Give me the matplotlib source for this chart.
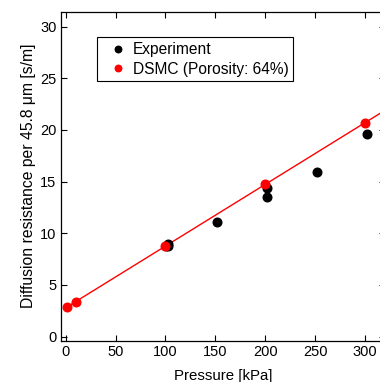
import numpy as np
import matplotlib
matplotlib.use("Agg")
import matplotlib.pyplot as plt

plt.rcParams['font.family'] = ['Liberation Sans', 'DejaVu Sans']

# Experimental data
exp_p = [101, 103, 103, 151.5, 202, 202, 252, 301.5]
exp_r = [8.8, 9.0, 8.75, 11.1, 14.4, 13.55, 15.9, 19.65]

# DSMC data
dsmc_p = [1, 10, 100, 200, 300]
dsmc_r = [2.84, 3.39, 8.75, 14.75, 20.7]

xticks = [0, 50, 100, 150, 200, 250, 300]
yticks = [0, 5, 10, 15, 20, 25, 30]

W, H = 380, 382
fig = plt.figure(figsize=(W / 100, H / 100), dpi=100)
ax = fig.add_axes([60.7 / W, (H - 340.7) / H, 324.3 / W, 329.0 / H])

coef = np.polyfit(dsmc_p, dsmc_r, 1)
xl = np.array([0, 320])
ax.plot(xl, np.polyval(coef, xl), color='red', lw=1.0, zorder=2)

ax.plot(exp_p, exp_r, 'o', color='black', ms=6.2, ls='none', zorder=3, label='Experiment')
ax.plot(dsmc_p, dsmc_r, 'o', color='red', ms=6.2, ls='none', zorder=4, label='DSMC (Porosity: 64%)')

ax.set_xlim(-5, 320)
ax.set_ylim(-0.4, 31.45)
ax.set_xticks(xticks)
ax.set_yticks(yticks)
ax.tick_params(direction='in', length=4, width=0.8, labelsize=10.5, top=True, right=True, pad=3)
for s in ax.spines.values():
    s.set_linewidth(0.9)

ax.set_xlabel('Pressure [kPa]', fontsize=10.8, labelpad=7)
ax.set_ylabel('Diffusion resistance per 45.8 μm [s/m]', fontsize=11.3, labelpad=3)

leg = ax.legend(loc='upper left', bbox_to_anchor=(0.111, 0.922), borderaxespad=0,
                fontsize=11.2, frameon=True, fancybox=False, framealpha=1,
                edgecolor='black', markerscale=0.75, handlelength=2.15,
                handletextpad=-0.12, borderpad=0.3, labelspacing=0.3)
leg.get_frame().set_linewidth(0.8)

fig.savefig('out.png', dpi=100)
